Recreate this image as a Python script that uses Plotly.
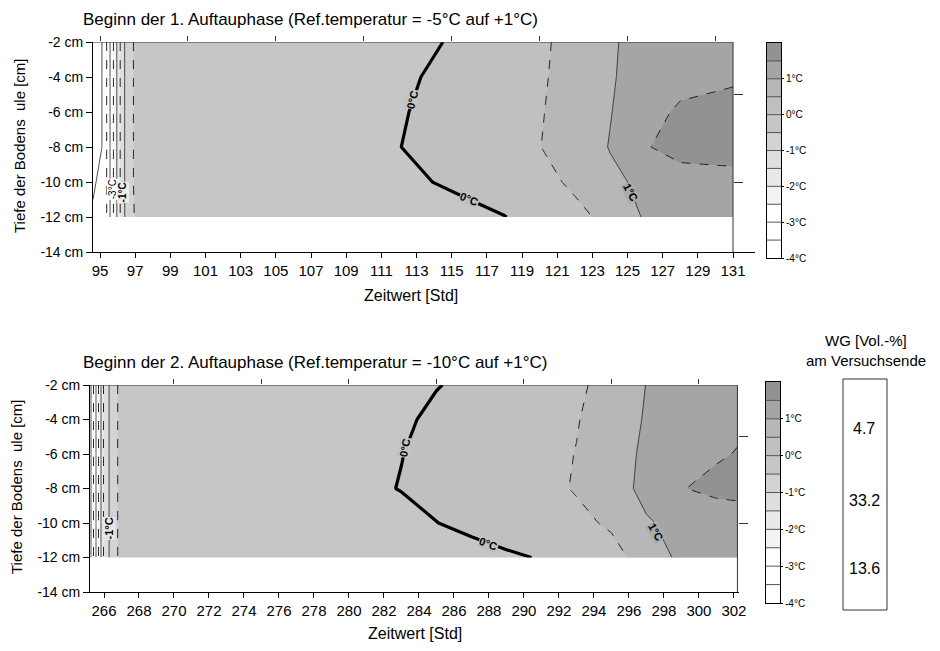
import plotly.graph_objects as go

# ---------------- data ----------------
depth = [-2, -4, -6, -8, -10, -12]

time1 = [94.6, 95.3, 96.3, 97.0, 104, 110, 112, 114, 116, 118, 120, 122, 124, 126, 128, 131]
temp1 = [
    [-4.8, -3.7, -1.1, -0.4, -0.30, -0.15, -0.08, -0.02, 0.06, 0.20, 0.44, 0.62, 0.95, 1.15, 1.30, 1.40],
    [-4.8, -3.7, -1.1, -0.4, -0.28, -0.12, -0.05, 0.03, 0.12, 0.26, 0.45, 0.65, 0.96, 1.18, 1.33, 1.42],
    [-4.8, -3.7, -1.1, -0.4, -0.25, -0.10, -0.02, 0.05, 0.14, 0.28, 0.47, 0.68, 0.98, 1.30, 1.58, 1.70],
    [-4.8, -3.7, -1.1, -0.4, -0.22, -0.08, -0.005, 0.07, 0.16, 0.30, 0.49, 0.72, 1.02, 1.46, 1.70, 1.85],
    [-4.1, -3.7, -1.1, -0.4, -0.30, -0.20, -0.10, 0.005, 0.10, 0.22, 0.36, 0.58, 0.90, 1.10, 1.25, 1.22],
    [-3.9, -3.7, -1.1, -0.45, -0.40, -0.35, -0.28, -0.20, -0.10, -0.01, 0.15, 0.38, 0.62, 1.05, 1.15, 1.18],
]

time2 = [265.2, 266.0, 266.4, 267.0, 275, 281, 283, 285, 287, 289, 291, 293, 295, 297, 299, 301, 302.2]
temp2 = [
    [-4.2, -1.4, -0.85, -0.3, -0.30, -0.15, -0.08, -0.01, 0.05, 0.15, 0.28, 0.44, 0.62, 1.01, 1.20, 1.33, 1.38],
    [-4.2, -1.4, -0.85, -0.3, -0.25, -0.12, -0.04, 0.05, 0.12, 0.22, 0.34, 0.48, 0.68, 1.05, 1.25, 1.37, 1.42],
    [-4.2, -1.4, -0.85, -0.3, -0.20, -0.08, -0.005, 0.07, 0.15, 0.26, 0.38, 0.51, 0.75, 1.10, 1.30, 1.45, 1.52],
    [-4.2, -1.4, -0.85, -0.3, -0.18, -0.05, 0.01, 0.09, 0.18, 0.29, 0.39, 0.53, 0.80, 1.12, 1.48, 1.62, 1.68],
    [-4.2, -1.4, -0.85, -0.3, -0.30, -0.18, -0.09, -0.005, 0.08, 0.17, 0.28, 0.40, 0.56, 0.96, 1.12, 1.20, 1.18],
    [-4.2, -1.4, -0.85, -0.3, -0.42, -0.32, -0.25, -0.18, -0.12, -0.05, 0.02, 0.15, 0.35, 0.68, 1.12, 1.18, 1.20],
]

level_edges = [-4, -3.5, -3, -2.5, -2, -1.5, -1, -0.5, 0, 0.5, 1, 1.5, 2]
band_mids = [-3.75, -3.25, -2.75, -2.25, -1.75, -1.25, -0.75, -0.25, 0.25, 0.75, 1.25, 1.75]
band_colors = ['#ffffff', '#ffffff', '#ffffff', '#f3f3f3', '#e9e9e9', '#dedede',
               '#d3d3d3', '#c6c6c6', '#c0c0c0', '#b7b7b7', '#a5a5a5', '#929292']
cbar_ticks = [-4, -3, -2, -1, 0, 1]
cbar_labels = ['-4°C', '-3°C', '-2°C', '-1°C', '0°C', '1°C']

depth_ticks = [-2, -4, -6, -8, -10, -12, -14]
depth_labels = ['-2 cm', '-4 cm', '-6 cm', '-8 cm', '-10 cm', '-12 cm', '-14 cm']

wg_values = ['4.7', '33.2', '13.6']

title1 = "Beginn der 1. Auftauphase (Ref.temperatur = -5°C auf +1°C)"
title2 = "Beginn der 2. Auftauphase (Ref.temperatur = -10°C auf +1°C)"
xtitle = "Zeitwert [Std]"
ytitle = "Tiefe der Bodens\u00a0\u00a0ule [cm]"

# ---------------- layout helpers ----------------
W, H = 940, 651
def px(x):
    return x / W
def py(y):
    return 1 - y / H

FONT = "Liberation Sans, Arial, sans-serif"
ZMIN, ZMAX = level_edges[0], level_edges[-1]
cscale = [[0.0, band_colors[0]]]
for m, c in zip(band_mids, band_colors):
    cscale.append([(m - ZMIN) / (ZMAX - ZMIN), c])
cscale.append([1.0, band_colors[-1]])

fig = go.Figure()

def add_panel(t, z, xa, ya):
    fig.add_trace(go.Contour(
        x=t, y=depth, z=z, xaxis=xa, yaxis=ya,
        zmin=ZMIN, zmax=ZMAX, colorscale=cscale, showscale=False,
        contours=dict(start=ZMIN, end=ZMAX, size=0.5, coloring='fill', showlines=False),
        line=dict(width=0, smoothing=0), hoverinfo='skip'))
    # solid integer isotherms
    fig.add_trace(go.Contour(
        x=t, y=depth, z=z, xaxis=xa, yaxis=ya, showscale=False,
        contours=dict(start=-4, end=1, size=1, coloring='none', showlines=True),
        line=dict(width=0.8, color='#222', smoothing=0), hoverinfo='skip'))
    # dashed half-degree isotherms
    fig.add_trace(go.Contour(
        x=t, y=depth, z=z, xaxis=xa, yaxis=ya, showscale=False,
        contours=dict(start=-3.5, end=1.5, size=1, coloring='none', showlines=True),
        line=dict(width=1.0, color='#222', dash='dash', smoothing=0), hoverinfo='skip'))
    # thick 0 °C isotherm
    fig.add_trace(go.Contour(
        x=t, y=depth, z=z, xaxis=xa, yaxis=ya, showscale=False,
        contours=dict(start=0, end=0, size=1, coloring='none', showlines=True),
        line=dict(width=3.2, color='black', smoothing=0), hoverinfo='skip'))

add_panel(time1, temp1, 'x', 'y')
add_panel(time2, temp2, 'x3', 'y3')

# overlay axes for extra ticks (top / right)
fig.add_trace(go.Scatter(x=[], y=[], xaxis='x2', yaxis='y2', showlegend=False, hoverinfo='skip'))
fig.add_trace(go.Scatter(x=[], y=[], xaxis='x4', yaxis='y4', showlegend=False, hoverinfo='skip'))

# colour bars as heatmaps
for xa, ya in (('x5', 'y5'), ('x6', 'y6')):
    fig.add_trace(go.Heatmap(
        x=[0], y=band_mids, z=[[m] for m in band_mids], xaxis=xa, yaxis=ya,
        zmin=ZMIN, zmax=ZMAX, colorscale=cscale, showscale=False,
        hoverinfo='skip'))

r1 = [94.6, 132.25]
r2 = [265.2, 302.29]
yr = [-14, -2]

tickfont = dict(family=FONT, size=15, color='black')
common_x = dict(showgrid=False, zeroline=False, showline=True, linecolor='black', linewidth=1,
                ticks='outside', ticklen=5, tickcolor='black', tickfont=tickfont, dtick=2,
                automargin=False)
common_y = dict(showgrid=False, zeroline=False, showline=True, linecolor='black', linewidth=1,
                ticks='outside', ticklen=6, tickcolor='black',
                tickfont=dict(family=FONT, size=14, color='black'),
                tickvals=depth_ticks, ticktext=depth_labels, range=yr, automargin=False)
over = dict(showticklabels=False, ticks='outside', tickcolor='#333', showgrid=False,
            zeroline=False, showline=False, automargin=False)

fig.update_layout(
    width=W, height=H, margin=dict(l=0, r=0, t=0, b=0, pad=0, autoexpand=False),
    paper_bgcolor='white', plot_bgcolor='white', showlegend=False,
    font=dict(family=FONT, color='black'),
    xaxis=dict(common_x, domain=[px(93), px(755)], range=r1, tick0=95, anchor='y'),
    yaxis=dict(common_y, domain=[py(252), py(42)], anchor='x'),
    xaxis2=dict(over, overlaying='x', side='top', anchor='y2', range=r1,
                tickvals=list(range(95, 131, 5)), ticklen=5),
    yaxis2=dict(over, overlaying='y', side='right', anchor='free', position=px(733), range=yr,
                tickvals=[-5, -10], ticklen=9),
    xaxis3=dict(common_x, domain=[px(90), px(739)], range=r2, tick0=266, anchor='y3'),
    yaxis3=dict(common_y, domain=[py(592), py(385)], anchor='x3'),
    xaxis4=dict(over, overlaying='x3', side='top', anchor='y4', range=r2,
                tickvals=list(range(270, 301, 5)), ticklen=5),
    yaxis4=dict(over, overlaying='y3', side='right', anchor='free', position=px(738), range=yr,
                tickvals=[-5, -10], ticklen=9),
)

cb_x = dict(range=[-0.5, 0.5], showticklabels=False, ticks='', showgrid=False, zeroline=False,
            showline=True, mirror=True, linecolor='black', linewidth=1, automargin=False)
cb_y = dict(range=[ZMIN, ZMAX], side='right', tickvals=cbar_ticks, ticktext=cbar_labels,
            tickfont=dict(family=FONT, size=10, color='black'), ticks='outside', ticklen=2,
            tickcolor='black', showgrid=False, zeroline=False, showline=True, mirror=True,
            linecolor='black', linewidth=1, automargin=False)
fig.update_layout(
    xaxis5=dict(cb_x, domain=[px(767), px(781)], anchor='y5'),
    yaxis5=dict(cb_y, domain=[py(258), py(43)], anchor='x5'),
    xaxis6=dict(cb_x, domain=[px(766), px(780)], anchor='y6'),
    yaxis6=dict(cb_y, domain=[py(603), py(382)], anchor='x6'),
)

shapes = []
# band boundaries in the colour bars
for xa, ya in (('x5', 'y5'), ('x6', 'y6')):
    for lv in level_edges[1:-1]:
        shapes.append(dict(type='line', xref=xa + ' domain', yref=ya, x0=0, x1=1, y0=lv, y1=lv,
                           line=dict(color='#555', width=1)))
# frame of measured field
for t, xr, yref in ((time1, 'x', 'y'), (time2, 'x3', 'y3')):
    shapes.append(dict(type='line', xref=xr, yref=yref, x0=t[0], x1=t[-1], y0=depth[0], y1=depth[0],
                       line=dict(color='#333', width=1)))
    shapes.append(dict(type='line', xref=xr, yref=yref, x0=t[-1], x1=t[-1], y0=yr[0], y1=depth[0],
                       line=dict(color='#333', width=1)))
# WG box
shapes.append(dict(type='rect', xref='paper', yref='paper', x0=px(843), x1=px(887), y0=py(610), y1=py(379),
                   line=dict(color='#333', width=1), fillcolor='rgba(0,0,0,0)'))

ann = []
def text(x, y, s, size=16, xanchor='center', angle=0, bg=None, xref='paper', yref='paper', bold=False):
    d = dict(x=x, y=y, xref=xref, yref=yref, text=('<b>%s</b>' % s) if bold else s, showarrow=False,
             xanchor=xanchor, yanchor='middle', textangle=angle,
             font=dict(family=FONT, size=size, color='black'))
    if bg:
        d['bgcolor'] = bg
        d['borderpad'] = 0
    ann.append(d)

text(px(81), py(19), title1, size=17, xanchor='left')
text(px(81), py(362), title2, size=17, xanchor='left')
text(px(411), py(295), xtitle, size=16)
text(px(415), py(633), xtitle, size=16)
text(px(19), py(146), ytitle, size=15, angle=-90)
text(px(16), py(487), ytitle, size=15, angle=-90)

# isotherm labels (panel 1)
text(112.75, -5.3, '0°C', size=11, angle=-76, bg='#c3c3c3', xref='x', yref='y', bold=True)
text(116.0, -10.95, '0°C', size=11, angle=22, bg='#c0c0c0', xref='x', yref='y', bold=True)
text(125.15, -10.6, '1°C', size=11, angle=62, bg='#aaaaaa', xref='x', yref='y', bold=True)
text(95.75, -10.4, '-3°C', size=10, angle=-90, bg='#ffffff', xref='x', yref='y')
text(96.3, -10.6, '-1°C', size=10, angle=-90, bg='#ececec', xref='x', yref='y', bold=True)
# isotherm labels (panel 2)
text(283.2, -5.6, '0°C', size=11, angle=-80, bg='#c3c3c3', xref='x3', yref='y3', bold=True)
text(288.0, -11.2, '0°C', size=11, angle=20, bg='#c0c0c0', xref='x3', yref='y3', bold=True)
text(297.55, -10.5, '1°C', size=11, angle=60, bg='#aaaaaa', xref='x3', yref='y3', bold=True)
text(266.3, -10.3, '-1°C', size=11, angle=-90, bg='#e6e6e6', xref='x3', yref='y3', bold=True)

# WG block
text(px(866), py(340), 'WG [Vol.-%]', size=15)
text(px(866), py(360), 'am Versuchsende', size=15)
for v, ypx in zip(wg_values, (428, 500, 568)):
    text(px(864), py(ypx), v, size=16)

fig.update_layout(shapes=shapes, annotations=ann)
fig.write_html("out.html", config={'displayModeBar': False},
               post_script="document.body.style.margin='0';document.body.style.padding='0';")
